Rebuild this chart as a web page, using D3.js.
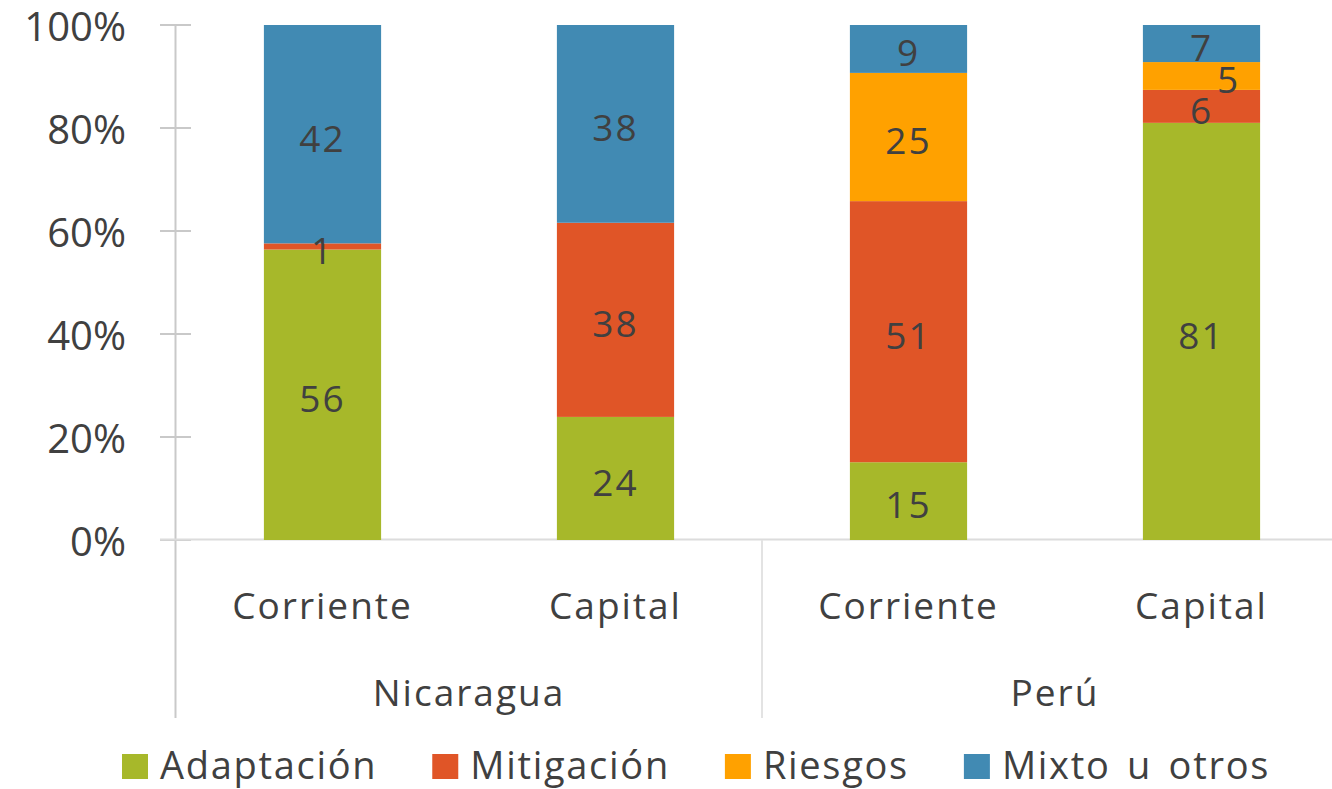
<!DOCTYPE html>
<html>
<head>
<meta charset="utf-8">
<script src="https://cdn.jsdelivr.net/npm/d3@7"></script>
<style>
  body { margin: 0; background: #fff; }
  svg text { font-family: "Open Sans", "Noto Sans", sans-serif; fill: #404040; }
</style>
</head>
<body>
<div id="chart"></div>
<script>
var categories = ["Corriente", "Capital", "Corriente", "Capital"];
var groups = ["Nicaragua", "Perú"];
var seriesNames = ["Adaptación", "Mitigación", "Riesgos", "Mixto u otros"];
var adaptacion = [56.4, 23.9, 15.1, 81.0];
var mitigacion = [1.2, 37.7, 50.7, 6.4];
var riesgos = [0, 0, 24.9, 5.4];
var mixto = [42.4, 38.4, 9.3, 7.2];
var yTicks = [0, 20, 40, 60, 80, 100];
var colors = ["#a7b82a", "#e05527", "#ffa100", "#418ab3"];

var w = 1332, h = 789;
var plotLeft = 176, plotRight = 1348, plotTop = 25, plotBottom = 540;

var svg = d3.select('#chart').append('svg')
  .attr('width', w)
  .attr('height', h);

// build rows for the stack
var keys = ["a", "m", "r", "x"];
var rows = categories.map(function(c, i) {
  return { idx: i, a: adaptacion[i], m: mitigacion[i], r: riesgos[i], x: mixto[i] };
});
var stacked = d3.stack().keys(keys).offset(d3.stackOffsetExpand)(rows);

var x = d3.scaleBand()
  .domain(d3.range(categories.length))
  .range([plotLeft, plotRight])
  .paddingInner(0.6)
  .paddingOuter(0.3);

var y = d3.scaleLinear().domain([0, 1]).range([plotBottom, plotTop]);

// axis lines
var axisColor = "#c9c9c9";
svg.append('line')
  .attr('x1', plotLeft - 0.5).attr('x2', plotLeft - 0.5)
  .attr('y1', plotTop).attr('y2', 718)
  .attr('stroke', axisColor).attr('stroke-width', 2);

svg.selectAll('.ytick')
  .data(yTicks)
  .enter().append('line')
  .attr('class', 'ytick')
  .attr('x1', 160).attr('x2', 191)
  .attr('y1', function(d) { return y(d / 100); })
  .attr('y2', function(d) { return y(d / 100); })
  .attr('stroke', axisColor).attr('stroke-width', 2);

svg.selectAll('.ylab')
  .data(yTicks)
  .enter().append('text')
  .attr('class', 'ylab')
  .attr('x', 126)
  .attr('y', function(d) { return y(d / 100) + 2; })
  .attr('dy', '0.36em')
  .attr('text-anchor', 'end')
  .style('font-size', '40px')
  .text(function(d) { return d + '%'; });

// baseline
svg.append('line')
  .attr('x1', 160).attr('x2', plotRight)
  .attr('y1', plotBottom - 0.5).attr('y2', plotBottom - 0.5)
  .attr('stroke', '#dcdcdc').attr('stroke-width', 2);

// group separators
var step = x.step();
svg.selectAll('.sep')
  .data([2, 4])
  .enter().append('line')
  .attr('class', 'sep')
  .attr('x1', function(d) { return plotLeft + d * step; })
  .attr('x2', function(d) { return plotLeft + d * step; })
  .attr('y1', plotBottom).attr('y2', 718)
  .attr('stroke', '#e3e3e3').attr('stroke-width', 2);

// bars
var layers = svg.selectAll('.layer')
  .data(stacked)
  .enter().append('g')
  .attr('class', 'layer')
  .attr('fill', function(d, i) { return colors[i]; });

layers.selectAll('rect')
  .data(function(d) { return d; })
  .enter().append('rect')
  .attr('x', function(d) { return x(d.data.idx); })
  .attr('width', x.bandwidth())
  .attr('y', function(d) { return y(d[1]); })
  .attr('height', function(d) { return y(d[0]) - y(d[1]); });

// value labels
var fmt = d3.format('.0f');
var nudge = { "r3": 27 };
stacked.forEach(function(layer, li) {
  svg.selectAll('.lab-' + li)
    .data(layer.filter(function(d) { return d.data[keys[li]] > 0; }))
    .enter().append('text')
    .attr('class', 'lab-' + li)
    .attr('x', function(d) { return x(d.data.idx) + x.bandwidth() / 2 + (nudge[keys[li] + d.data.idx] || 0); })
    .attr('y', function(d) { return (y(d[0]) + y(d[1])) / 2 + 4; })
    .attr('dy', '0.36em')
    .attr('text-anchor', 'middle')
    .style('font-size', '37px')
    .style('letter-spacing', '2px')
    .text(function(d) { return fmt(d.data[keys[li]]); });
});

// category labels
svg.selectAll('.cat')
  .data(categories)
  .enter().append('text')
  .attr('class', 'cat')
  .attr('x', function(d, i) { return x(i) + x.bandwidth() / 2; })
  .attr('y', 619)
  .attr('text-anchor', 'middle')
  .style('font-size', '37px')
  .style('letter-spacing', '2px')
  .text(function(d) { return d; });

svg.selectAll('.grp')
  .data(groups)
  .enter().append('text')
  .attr('class', 'grp')
  .attr('x', function(d, i) { return plotLeft + (i * 2 + 1) * step; })
  .attr('y', 706)
  .attr('text-anchor', 'middle')
  .style('font-size', '37px')
  .style('letter-spacing', '2px')
  .text(function(d) { return d; });

// legend
var lx = 122;
seriesNames.forEach(function(name, i) {
  svg.append('rect')
    .attr('x', lx).attr('y', 754)
    .attr('width', 26).attr('height', 25)
    .attr('fill', colors[i]);
  var t = svg.append('text')
    .attr('x', lx + 38).attr('y', 779)
    .style('font-size', '38px')
    .style('letter-spacing', '1.7px')
    .style('word-spacing', '5px')
    .text(name);
  lx += 38 + t.node().getComputedTextLength() + 55;
});
</script>
</body>
</html>
